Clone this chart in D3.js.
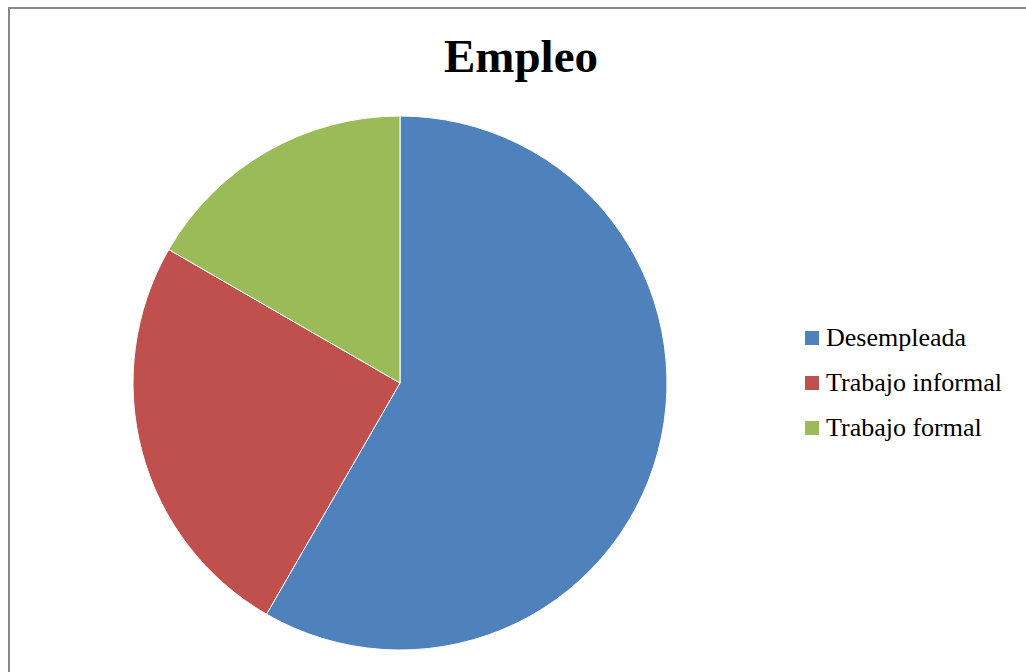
<!DOCTYPE html>
<html lang="es">
<head>
  <meta charset="UTF-8">
  <title>Empleo</title>
  <script src="https://d3js.org/d3.v7.min.js"></script>
  <style>
    body { margin: 0; background: #fff; }
  </style>
</head>
<body>

<div id="grafico"></div>

<script>
  // Datos del gráfico
  const categorias = ["Desempleada", "Trabajo informal", "Trabajo formal"];
  const valores = [35, 15, 10];
  const colores = ["#4F81BD", "#C0504D", "#9BBB59"];

  const width = 1026;
  const height = 672;
  const radio = 267;
  const cx = 400, cy = 383;

  const svg = d3.select("#grafico")
    .append("svg")
    .attr("width", width)
    .attr("height", height);

  // Marco del gráfico
  svg.append("rect")
    .attr("x", 9)
    .attr("y", 8)
    .attr("width", width + 20)
    .attr("height", height + 20)
    .attr("fill", "#fff")
    .attr("stroke", "#878787")
    .attr("stroke-width", 2);

  // Título
  svg.append("text")
    .attr("x", 521)
    .attr("y", 72)
    .attr("text-anchor", "middle")
    .attr("font-family", "'Liberation Serif', 'Times New Roman', serif")
    .attr("font-weight", "bold")
    .attr("font-size", "47px")
    .text("Empleo");

  // Pastel
  const pie = d3.pie().sort(null).value(d => d);
  const arc = d3.arc().innerRadius(0).outerRadius(radio);

  const g = svg.append("g").attr("transform", `translate(${cx},${cy})`);

  g.selectAll("path")
    .data(pie(valores))
    .enter()
    .append("path")
    .attr("d", arc)
    .attr("fill", (d, i) => colores[i])
    .attr("stroke", "#fff")
    .attr("stroke-width", 1);

  // Leyenda
  const color = d3.scaleOrdinal().domain(categorias).range(colores);
  const y = d3.scalePoint().domain(categorias).range([338, 428]);

  const leyenda = svg.append("g");
  const items = leyenda.selectAll("g")
    .data(categorias)
    .enter()
    .append("g")
    .attr("transform", d => `translate(805,${y(d)})`);

  items.append("rect")
    .attr("x", 0)
    .attr("y", -7)
    .attr("width", 14)
    .attr("height", 14)
    .attr("fill", d => color(d));

  items.append("text")
    .attr("x", 21)
    .attr("y", 8)
    .attr("font-family", "'Liberation Serif', 'Times New Roman', serif")
    .attr("font-size", "26px")
    .text(d => d);
</script>

</body>
</html>
